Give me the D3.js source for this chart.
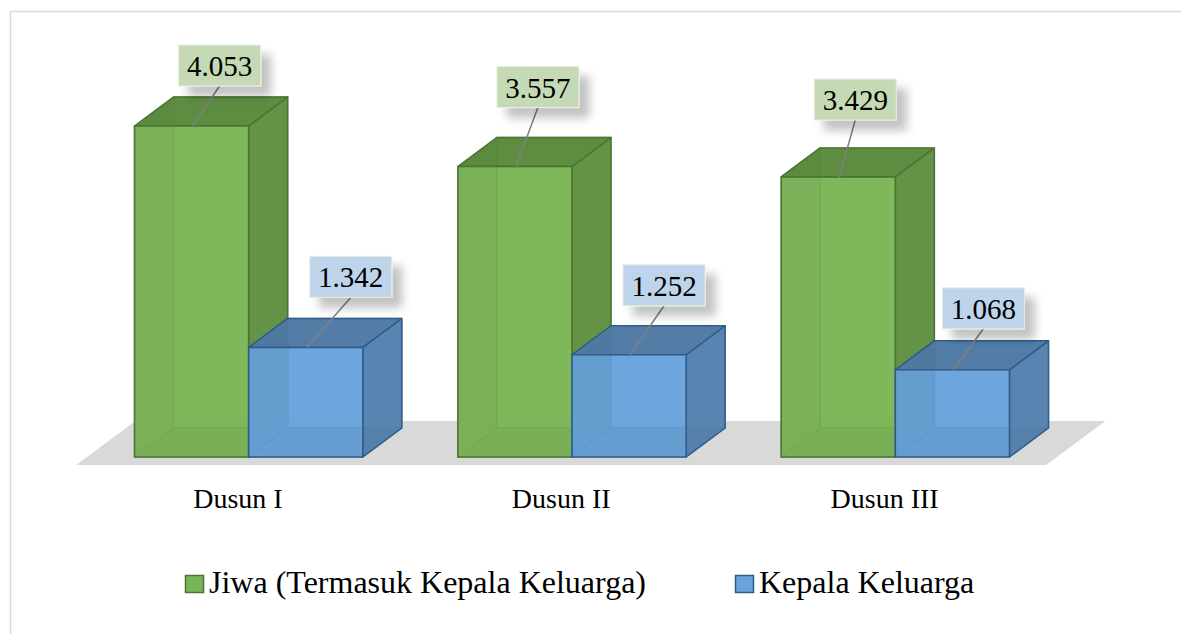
<!DOCTYPE html>
<html>
<head>
<meta charset="utf-8">
<script src="https://cdn.jsdelivr.net/npm/d3@7"></script>
<style>
  body { margin: 0; background: #fff; }
</style>
</head>
<body>
<div class="card"></div>
<script>
// data
var categories = ["Dusun I", "Dusun II", "Dusun III"];
var seriesNames = ["Jiwa (Termasuk Kepala Keluarga)", "Kepala Keluarga"];
var jiwa = [4053, 3557, 3429];
var kepalaKeluarga = [1342, 1252, 1068];

// label nudges (label box centre / top relative to bar top), hand placed like the original
var jiwaNudge = [[28, -81], [23, -100], [17, -98]];
var kkNudge = [[45, -91], [35, -90], [31, -82]];

var width = 1181, height = 634;
var depthX = 39, depthY = -29;   // oblique 3d offset of the box depth
var serif = "'Liberation Serif', 'Times New Roman', Times, serif";

var colors = {
  "Jiwa (Termasuk Kepala Keluarga)": { front: "#7bb457", side: "#618e42", top: "#5a893d", edge: "#4a7431", label: "#c5dab4" },
  "Kepala Keluarga": { front: "#68a3da", side: "#5580ad", top: "#4f78a1", edge: "#2f5d8a", label: "#bed4ea" }
};

var idLocale = d3.formatLocale({ decimal: ",", thousands: ".", grouping: [3], currency: ["", ""] });
var fmt = idLocale.format(",d");

var svg = d3.select('.card')
  .append('svg')
  .attr('width', width)
  .attr('height', height);

var defs = svg.append('defs');
var shadow = defs.append('filter').attr('id', 'shadow')
  .attr('x', '-30%').attr('y', '-30%').attr('width', '180%').attr('height', '180%');
shadow.append('feDropShadow')
  .attr('dx', 10).attr('dy', 10).attr('stdDeviation', 5)
  .attr('flood-color', '#000').attr('flood-opacity', 0.24);

// chart border (only top / left visible in the crop)
svg.append('rect')
  .attr('x', 10.5).attr('y', 11.5)
  .attr('width', 1300).attr('height', 800)
  .attr('fill', 'none').attr('stroke', '#d9d9d9').attr('stroke-width', 1.5);

var xScale = d3.scaleBand()
  .domain(categories)
  .range([87, 1057])
  .paddingInner(0.294)
  .paddingOuter(0.147);

var subScale = d3.scaleBand()
  .domain(seriesNames)
  .range([0, xScale.bandwidth()]);

var yScale = d3.scaleLinear()
  .domain([0, 4500])
  .range([457, 89.5]);

// floor
var fFront = 8 / 29, fBack = 1 + 7 / 29;
var x0 = xScale.range()[0], x1 = xScale.range()[1], yb = yScale(0);
var floor = [
  [x0 - fFront * depthX, yb - fFront * depthY],
  [x1 - fFront * depthX, yb - fFront * depthY],
  [x1 + fBack * depthX, yb + fBack * depthY],
  [x0 + fBack * depthX, yb + fBack * depthY]
];
svg.append('polygon')
  .attr('points', floor.map(p => p.join(',')).join(' '))
  .attr('fill', '#d9d9d9');

// build the bars
var bars = [];
categories.forEach(function(c, i) {
  bars.push({ cat: c, series: seriesNames[0], value: jiwa[i], nudge: jiwaNudge[i] });
  bars.push({ cat: c, series: seriesNames[1], value: kepalaKeluarga[i], nudge: kkNudge[i] });
});

function pts(arr) { return arr.map(p => p[0] + ',' + p[1]).join(' '); }

var barG = svg.append('g');
bars.forEach(function(d) {
  var col = colors[d.series];
  var bx = xScale(d.cat) + subScale(d.series);
  var bw = subScale.bandwidth();
  var yt = yScale(d.value), ybot = yScale(0);
  var f = [[bx, ybot], [bx + bw, ybot], [bx + bw, yt], [bx, yt]];
  var b = f.map(p => [p[0] + depthX, p[1] + depthY]);
  var g = barG.append('g')
    .attr('stroke', col.edge).attr('stroke-width', 1.5).attr('stroke-linejoin', 'round');
  // hidden faces first (seen through the translucent front)
  g.append('polygon').attr('points', pts(b)).attr('fill', col.front).attr('fill-opacity', 0.85).attr('stroke-opacity', 0.5);
  g.append('polygon').attr('points', pts([f[0], b[0], b[3], f[3]])).attr('fill', col.side).attr('fill-opacity', 0.85).attr('stroke-opacity', 0.5);
  g.append('polygon').attr('points', pts([f[0], f[1], b[1], b[0]])).attr('fill', col.top).attr('fill-opacity', 0.85).attr('stroke-opacity', 0.5);
  // visible faces
  g.append('polygon').attr('points', pts([f[1], b[1], b[2], f[2]])).attr('fill', col.side).attr('fill-opacity', 0.92);
  g.append('polygon').attr('points', pts([f[3], f[2], b[2], b[3]])).attr('fill', col.top).attr('fill-opacity', 0.92);
  g.append('polygon').attr('points', pts(f)).attr('fill', col.front).attr('fill-opacity', 0.82);
  d.cx = bx + bw / 2;
  d.yt = yt;
});

// data labels
var labelG = svg.append('g');
bars.forEach(function(d) {
  var col = colors[d.series];
  var bw = 82, bh = 41;
  var lcx = d.cx + d.nudge[0], ltop = d.yt + d.nudge[1];
  labelG.append('line')
    .attr('x1', lcx).attr('y1', ltop + bh)
    .attr('x2', d.cx + 1).attr('y2', d.yt)
    .attr('stroke', '#7f7f7f').attr('stroke-width', 1.5);
  labelG.append('rect')
    .attr('x', lcx - bw / 2).attr('y', ltop)
    .attr('width', bw).attr('height', bh)
    .attr('fill', col.label)
    .attr('stroke', '#e6eee0').attr('stroke-width', 1)
    .attr('filter', 'url(#shadow)');
  labelG.append('text')
    .attr('x', lcx).attr('y', ltop + 31)
    .attr('text-anchor', 'middle')
    .attr('font-family', serif)
    .attr('font-size', 29)
    .attr('fill', '#000')
    .text(fmt(d.value));
});

// category labels, sitting on the floor front edge
svg.append('g').selectAll('text')
  .data(categories)
  .enter()
  .append('text')
  .attr('x', d => xScale(d) + xScale.bandwidth() / 2 - fFront * depthX)
  .attr('y', 508)
  .attr('text-anchor', 'middle')
  .attr('font-family', serif)
  .attr('font-size', 28)
  .attr('fill', '#000')
  .text(d => d);

// legend
var legend = svg.append('g');
var lx = 185;
seriesNames.forEach(function(s) {
  var col = colors[s];
  legend.append('rect')
    .attr('x', lx + 0.5).attr('y', 575.5)
    .attr('width', 18).attr('height', 17)
    .attr('fill', col.front).attr('stroke', col.edge).attr('stroke-width', 1.5);
  var t = legend.append('text')
    .attr('x', lx + 24).attr('y', 593)
    .attr('font-family', serif)
    .attr('font-size', 32)
    .attr('fill', '#000')
    .text(s);
  lx = lx + 24 + t.node().getComputedTextLength() + 89;
});
</script>
</body>
</html>
